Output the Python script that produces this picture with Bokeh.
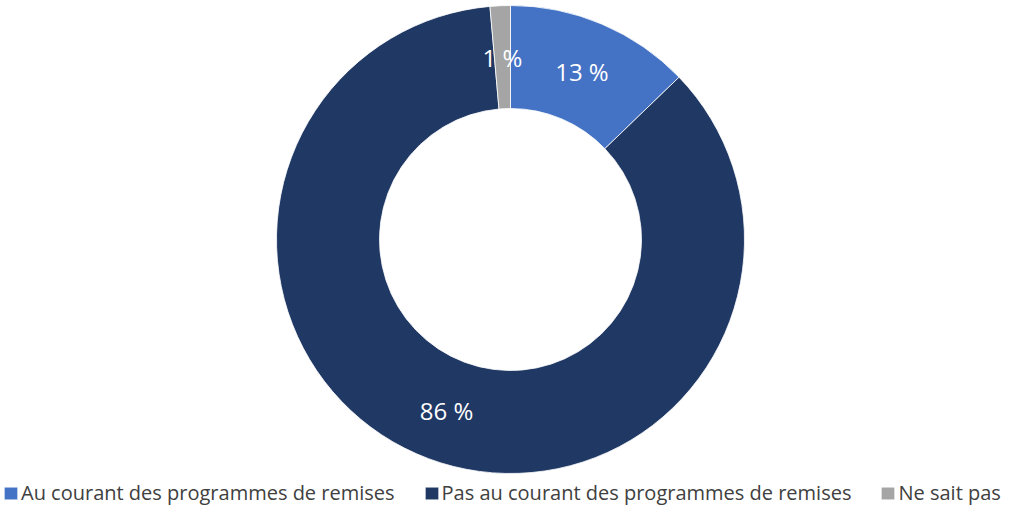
import numpy as np
from bokeh.plotting import figure
from bokeh.models import Range1d, Legend, LegendItem, ColumnDataSource
from bokeh.core.properties import value
from bokeh.embed import file_html
from bokeh.resources import INLINE

categories = ["Au courant des programmes de remises",
              "Pas au courant des programmes de remises",
              "Ne sait pas"]
shares = [12.8, 85.8, 1.4]
labels = ["13 %", "86 %", "1 %"]
colors = ["#4472C4", "#203864", "#A5A5A5"]

# layout (canvas-pixel data space)
W, H = 1009, 506
cx, cy = 510, -239
r_in, r_out = 131, 234

frac = np.array(shares) / sum(shares)
cum = np.concatenate([[0], np.cumsum(frac)])
start = np.pi / 2 - 2 * np.pi * cum[:-1]
end = np.pi / 2 - 2 * np.pi * cum[1:]
mid = (start + end) / 2
r_mid = (r_in + r_out) / 2

src = ColumnDataSource(dict(cat=categories, start=start, end=end, color=colors))
lab = ColumnDataSource(dict(x=cx + r_mid * np.cos(mid), y=cy + r_mid * np.sin(mid), text=labels))

p = figure(width=W, height=H, output_backend="svg", toolbar_location=None,
           x_range=Range1d(0, W), y_range=Range1d(-H, 0),
           min_border=0, x_axis_location=None, y_axis_location=None)
p.grid.visible = False
p.outline_line_color = None
p.background_fill_color = "white"
p.border_fill_color = "white"

r = p.annular_wedge(x=cx, y=cy, inner_radius=r_in, outer_radius=r_out,
                    start_angle="start", end_angle="end", direction="clock",
                    fill_color="color", line_color="white", line_width=0.8,
                    source=src)

p.text(x="x", y="y", text="text", source=lab, text_color="white",
       text_font=value("Open Sans"), text_font_size="24px",
       text_align="center", text_baseline="middle")

items = [LegendItem(label=c, renderers=[r], index=i) for i, c in enumerate(categories)]
legend = Legend(items=items, orientation="horizontal", location=(2, 0),
                padding=0, margin=0, spacing=28, label_standoff=2,
                glyph_width=17, glyph_height=16,
                label_text_font="Open Sans", label_text_font_size="20px",
                label_text_color="#404040",
                border_line_color=None, background_fill_alpha=0)
p.add_layout(legend, "center")

open("out.html", "w").write(file_html(p, INLINE))
